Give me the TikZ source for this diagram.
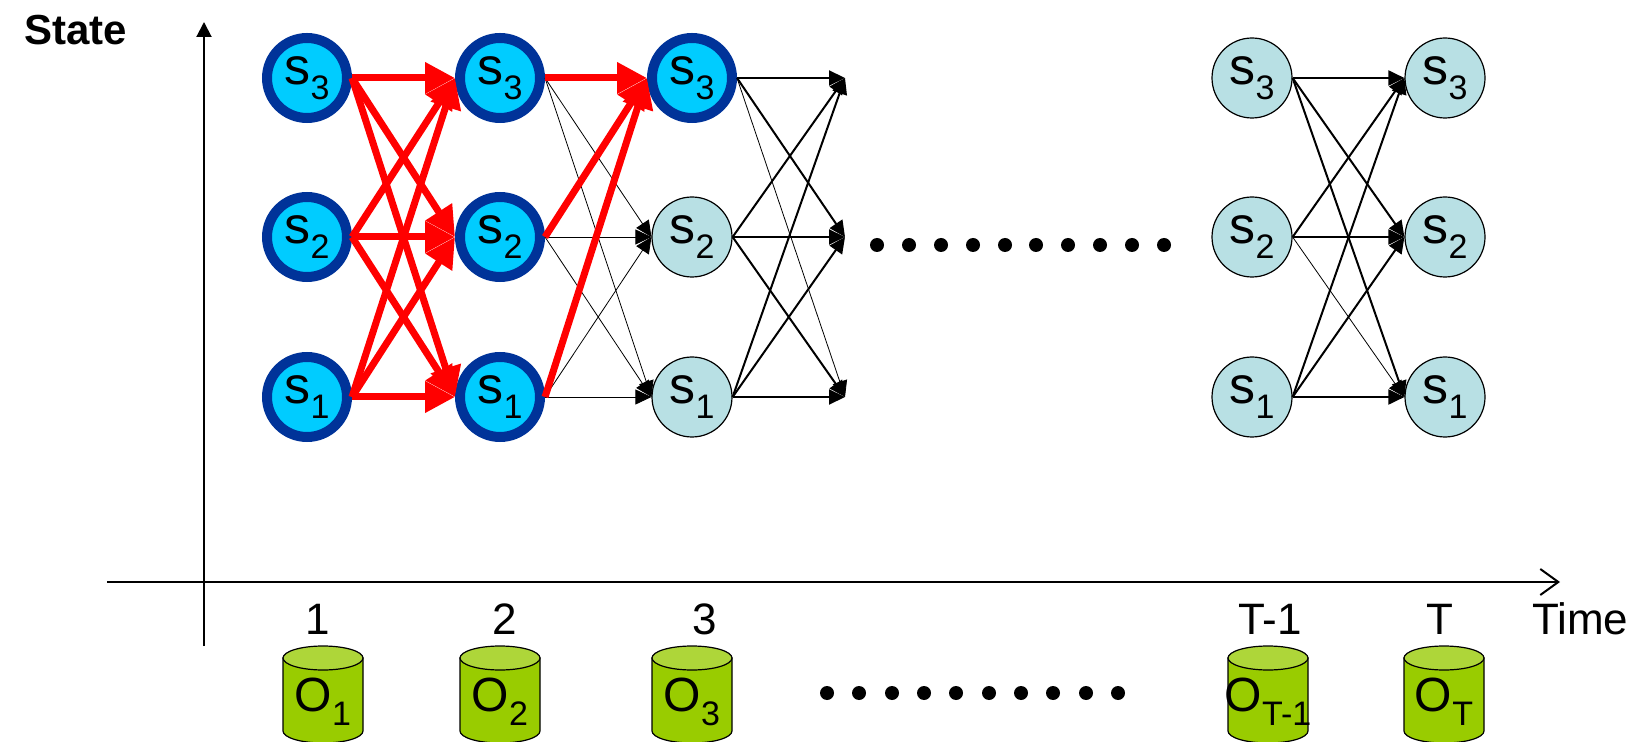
\documentclass[tikz,border=0pt]{standalone}
\usepackage{fontspec}
\setmainfont{Liberation Sans}
\usetikzlibrary{arrows.meta}
\definecolor{ringblue}{HTML}{003399}
\definecolor{fillcyan}{HTML}{00CCFF}
\definecolor{paleblue}{HTML}{B8E0E4}
\definecolor{obsgreen}{HTML}{99CC00}
\definecolor{obstop}{HTML}{AED639}
\newcommand{\idx}[1]{\raisebox{-.55ex}{\fontsize{17}{17}\selectfont #1}}

\begin{document}
\begin{tikzpicture}[x=0.5pt,y=-0.5pt,
    hot/.style={circle,draw=ringblue,line width=5pt,fill=fillcyan,minimum size=40pt,inner sep=0pt,font=\fontsize{26}{26}\selectfont},
    cold/.style={circle,draw=black,line width=0.6pt,fill=paleblue,minimum size=40pt,inner sep=0pt,font=\fontsize{26}{26}\selectfont},
    drum/.pic={
        \filldraw[fill=obsgreen,line width=0.6pt] (-40,-36) -- (-40,37) arc[start angle=180,end angle=360,x radius=20pt,y radius=6pt] -- (40,-36) -- cycle;
        \filldraw[fill=obstop,line width=0.6pt] (0,-36) ellipse[x radius=20pt,y radius=6pt];
    },
    obstext/.style={font=\fontsize{24}{24}\selectfont,inner sep=0pt},
    redarrow/.style={draw=red,line width=3.5pt,-{Triangle[length=15pt,width=15pt]}},
    blackarrow/.style={draw=black,line width=1pt,-{Triangle[length=8pt,width=7.5pt]}},
    thinarrow/.style={draw=black,line width=0.4pt,-{Triangle[length=8pt,width=7.5pt]}},
    tick/.style={anchor=base,font=\fontsize{22}{22}\selectfont}]
    \useasboundingbox (0,0) rectangle (1642,742);

    % axes
    \coordinate (ybot) at (204,646);
    \coordinate (ytop) at (204,22);
    \coordinate (xleft) at (107,582);
    \coordinate (xright) at (1560,582);
    \draw[line width=1pt,-{Triangle[length=7.5pt,width=7.5pt]}] (ybot) -- (ytop);
    \draw[line width=1pt,-{Straight Barb[length=9pt,width=13pt]}] (xleft) -- (xright);
    \node[anchor=base west,font=\bfseries\fontsize{21}{21}\selectfont] (state) at (17,45) {State};
    \node[anchor=base west,font=\fontsize{22}{22}\selectfont] (time) at (1525,634) {Time};

    % states
    \node[hot] (t1s3) at (307,78) {s\idx{3}};
    \node[hot] (t1s2) at (307,237) {s\idx{2}};
    \node[hot] (t1s1) at (307,397) {s\idx{1}};
    \node[hot] (t2s3) at (500,78) {s\idx{3}};
    \node[hot] (t2s2) at (500,237) {s\idx{2}};
    \node[hot] (t2s1) at (500,397) {s\idx{1}};
    \node[hot] (t3s3) at (692,78) {s\idx{3}};
    \node[cold] (t3s2) at (692,237) {s\idx{2}};
    \node[cold] (t3s1) at (692,397) {s\idx{1}};
    \coordinate (t4s3) at (845,78);
    \coordinate (t4s2) at (845,237);
    \coordinate (t4s1) at (845,397);
    \node[cold] (tms3) at (1252,78) {s\idx{3}};
    \node[cold] (tms2) at (1252,237) {s\idx{2}};
    \node[cold] (tms1) at (1252,397) {s\idx{1}};
    \node[cold] (tTs3) at (1445,78) {s\idx{3}};
    \node[cold] (tTs2) at (1445,237) {s\idx{2}};
    \node[cold] (tTs1) at (1445,397) {s\idx{1}};

    % transitions
    \path (t2s3.east) edge[thinarrow] (t3s2.west) edge[thinarrow] (t3s1.west);
    \path (t2s2.east) edge[thinarrow] (t3s2.west) edge[thinarrow] (t3s1.west);
    \path (t2s1.east) edge[thinarrow] (t3s2.west) edge[thinarrow] (t3s1.west);
    \path (t3s3.east) edge[blackarrow] (t4s3) edge[blackarrow] (t4s2) edge[thinarrow] (t4s1);
    \path (t3s2.east) edge[blackarrow] (t4s3) edge[blackarrow] (t4s2) edge[blackarrow] (t4s1);
    \path (t3s1.east) edge[blackarrow] (t4s3) edge[blackarrow] (t4s2) edge[blackarrow] (t4s1);
    \path (tms3.east) edge[blackarrow] (tTs3.west) edge[blackarrow] (tTs2.west) edge[blackarrow] (tTs1.west);
    \path (tms2.east) edge[blackarrow] (tTs3.west) edge[blackarrow] (tTs2.west) edge[thinarrow] (tTs1.west);
    \path (tms1.east) edge[blackarrow] (tTs3.west) edge[blackarrow] (tTs2.west) edge[blackarrow] (tTs1.west);
    \path (t1s3.east) edge[redarrow] (t2s3.west) edge[redarrow] (t2s2.west) edge[redarrow] (t2s1.west);
    \path (t1s2.east) edge[redarrow] (t2s3.west) edge[redarrow] (t2s2.west) edge[redarrow] (t2s1.west);
    \path (t1s1.east) edge[redarrow] (t2s3.west) edge[redarrow] (t2s2.west) edge[redarrow] (t2s1.west);
    \path (t2s3.east) edge[redarrow] (t3s3.west);
    \path (t2s2.east) edge[redarrow] (t3s3.west);
    \path (t2s1.east) edge[redarrow] (t3s3.west);

    % dots
    \fill (877,245) circle (3.5pt) (909,245) circle (3.5pt) (941,245) circle (3.5pt) (973,245) circle (3.5pt) (1005,245) circle (3.5pt)
          (1036,245) circle (3.5pt) (1068,245) circle (3.5pt) (1100,245) circle (3.5pt) (1132,245) circle (3.5pt) (1164,245) circle (3.5pt);
    \fill (827,693) circle (3.5pt) (859,693) circle (3.5pt) (892,693) circle (3.5pt) (924,693) circle (3.5pt) (956,693) circle (3.5pt)
          (989,693) circle (3.5pt) (1021,693) circle (3.5pt) (1053,693) circle (3.5pt) (1086,693) circle (3.5pt) (1118,693) circle (3.5pt);

    % time steps and observations
    \node[tick] (n1) at (318,634) {1};
    \node[tick] (n2) at (505,634) {2};
    \node[tick] (n3) at (705,634) {3};
    \node[tick] (nm) at (1270,634) {T-1};
    \node[tick] (nT) at (1440,634) {T};
    \pic at (323,694) {drum};
    \pic at (500,694) {drum};
    \pic at (692,694) {drum};
    \pic at (1268,694) {drum};
    \pic at (1444,694) {drum};
    \node[obstext] (o1) at (323,702) {O\idx{1}};
    \node[obstext] (o2) at (500,702) {O\idx{2}};
    \node[obstext] (o3) at (692,702) {O\idx{3}};
    \node[obstext] (om) at (1268,702) {O\idx{T-1}};
    \node[obstext] (oT) at (1444,702) {O\idx{T}};
\end{tikzpicture}
\end{document}
